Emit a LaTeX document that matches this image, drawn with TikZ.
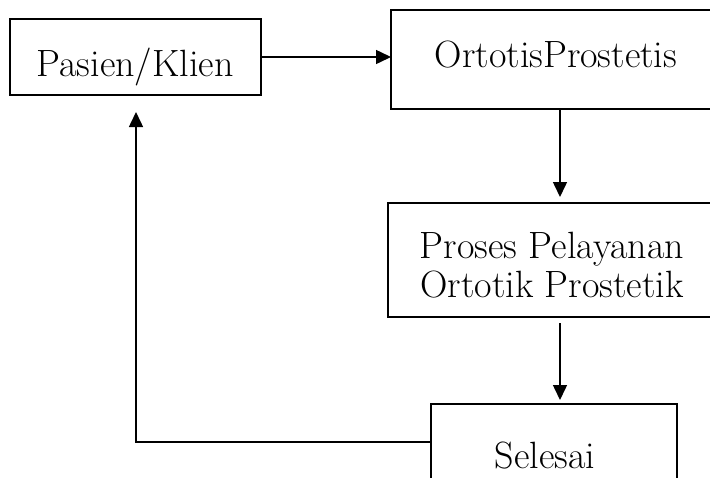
\documentclass[tikz,border=0pt]{standalone}
\usetikzlibrary{arrows.meta}
\begin{document}
\begin{tikzpicture}[x=1pt,y=-1pt,
  box/.style={draw, line width=1.5pt, inner sep=0pt, outer sep=0pt, anchor=north west},
  lbl/.style={font=\fontsize{38}{46}\selectfont, anchor=base, inner sep=0pt},
  conn/.style={line width=1.5pt, -{Triangle[length=15pt,width=14pt]}}]
\useasboundingbox (0,0) rectangle (710,477);
\clip (0,0) rectangle (710,477);
\node[box, minimum width=251pt, minimum height=76pt] (pasien) at (10,19) {};
\node[box, minimum width=330pt, minimum height=99pt] (ortotis) at (391,10) {};
\node[box, minimum width=330pt, minimum height=114pt] (proses) at (388,203) {};
\node[box, minimum width=246pt, minimum height=100pt] (selesai) at (431,404) {};
\node[lbl] (tpasien) at (135,76) {Pasien/Klien};
\node[lbl] (tortotis) at (556,67) {OrtotisProstetis};
\node[lbl] (tproses1) at (552,258) {Proses Pelayanan};
\node[lbl] (tproses2) at (552,297) {Ortotik Prostetik};
\node[lbl] (tselesai) at (545,468) {Selesai};
\coordinate (a1) at (560,197);
\coordinate (a2) at (560,323);
\coordinate (corner) at (136,442);
\draw[conn] (pasien.east) -- (pasien.east -| ortotis.west);
\draw[conn] (a1 |- ortotis.south) -- (a1);
\draw[conn, shorten >=4pt] (a2) -- (a2 |- selesai.north);
\draw[conn, shorten >=17pt] (corner -| selesai.west) -- (corner) -- (corner |- pasien.south);
\end{tikzpicture}
\end{document}
